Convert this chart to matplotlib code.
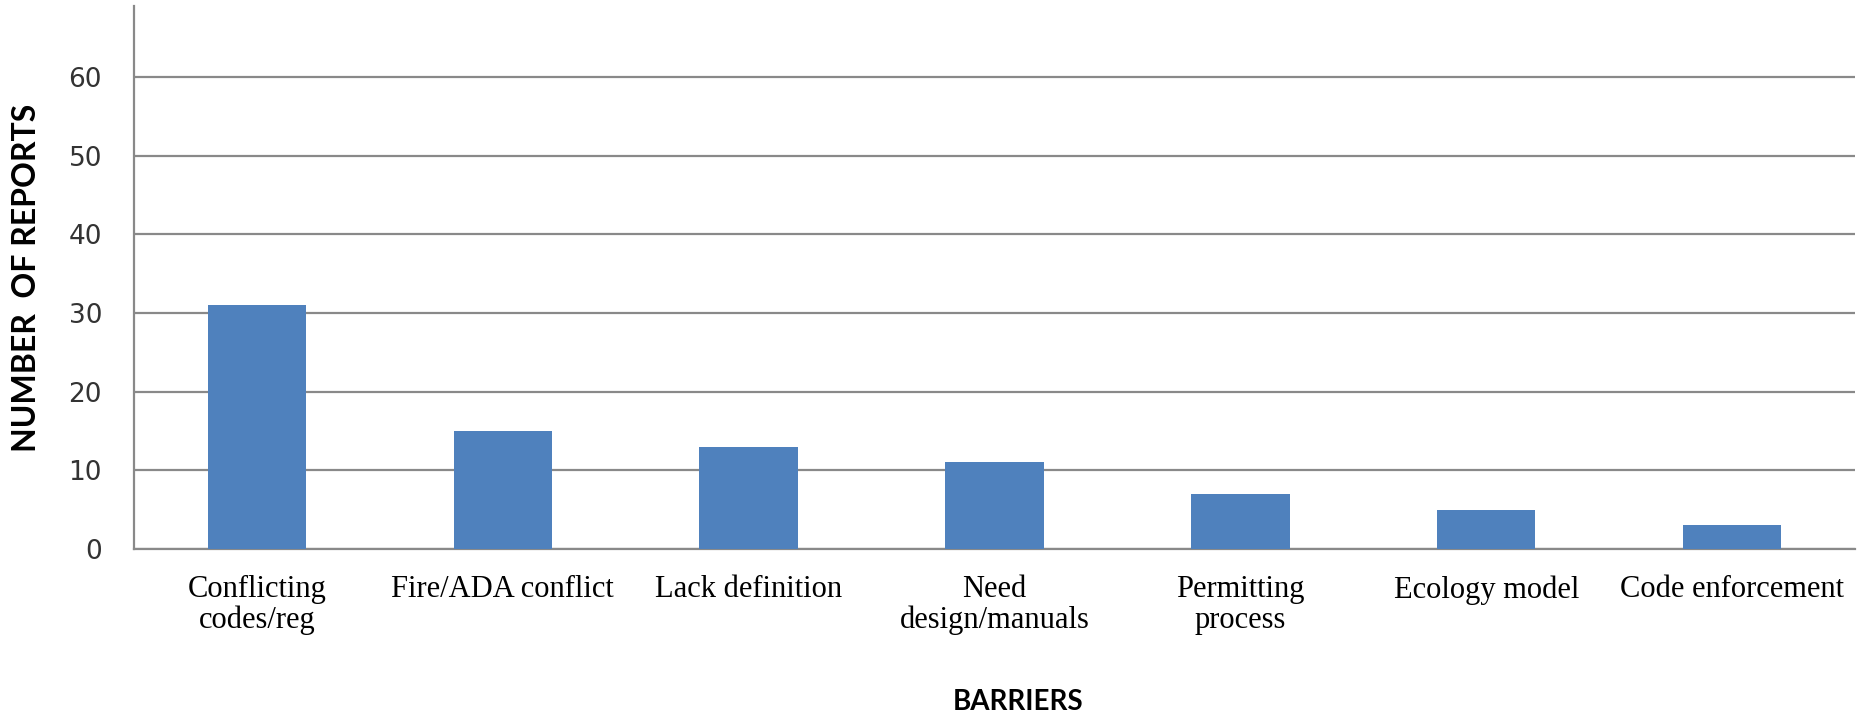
import matplotlib.pyplot as plt

# Reported barriers and how many reports named each one
barriers = [
    "Conflicting\ncodes/reg",
    "Fire/ADA conflict",
    "Lack definition",
    "Need\ndesign/manuals",
    "Permitting\nprocess",
    "Ecology model",
    "Code enforcement",
]
reports = [31, 15, 13, 11, 7, 5, 3]
y_ticks = [0, 10, 20, 30, 40, 50, 60]

grid_grey = "#898989"

fig = plt.figure(figsize=(18.58, 7.16), dpi=100)
ax = fig.add_axes([0.0721, 0.2332, 0.9263, 0.7584])

x = range(len(barriers))
ax.bar(x, reports, width=0.4, color="#4F81BD", zorder=3)

ax.set_xlim(-0.5, len(barriers) - 0.5)
ax.set_ylim(0, 69)
ax.set_yticks(y_ticks)
ax.yaxis.grid(True, color=grid_grey, linewidth=1.6, zorder=0)
ax.set_axisbelow(True)

# Only the left axis line stays; the zero gridline serves as the base
for side in ["top", "right"]:
    ax.spines[side].set_visible(False)
ax.spines["left"].set_color(grid_grey)
ax.spines["left"].set_linewidth(1.6)
ax.spines["bottom"].set_color(grid_grey)
ax.spines["bottom"].set_linewidth(1.6)

ax.tick_params(axis="both", length=0)
ax.tick_params(axis="y", pad=23)
ax.tick_params(axis="x", pad=19)
ax.set_yticklabels([str(t) for t in y_ticks], fontsize=19,
                   family="DejaVu Sans", color="#333333")
ax.set_xticks(list(x))
ax.set_xticklabels(barriers, fontsize=22, family="Liberation Serif",
                   color="black", linespacing=1.05)

ax.set_xlabel("BARRIERS", fontsize=20, fontweight="bold", family="Lato")
ax.xaxis.set_label_coords(0.5135, -0.258)
ax.set_ylabel("NUMBER  OF REPORTS", fontsize=23, fontweight="bold",
              family="Lato")
ax.yaxis.set_label_coords(-0.054, 0.5)

fig.savefig("out.png", dpi=100, facecolor="white")
